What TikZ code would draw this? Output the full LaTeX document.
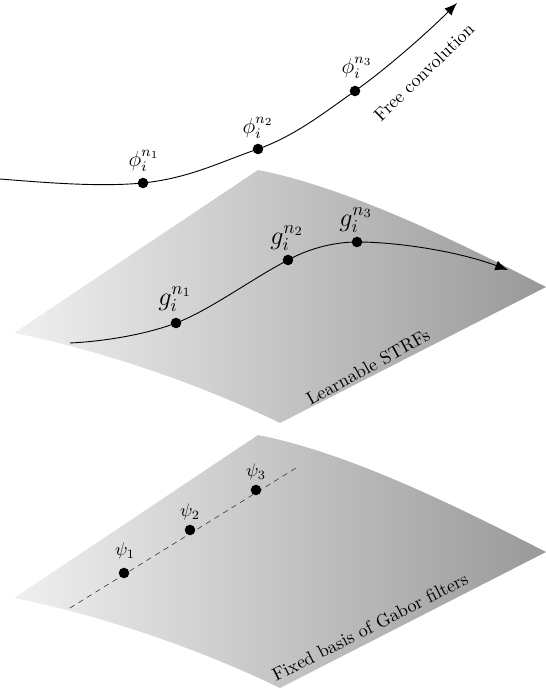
\documentclass[tikz,border=0pt]{standalone}
\usetikzlibrary{arrows.meta}
\begin{document}
\begin{tikzpicture}[x=0.55pt,y=-0.55pt,
  dot/.style={circle,fill=black,inner sep=0pt,minimum size=5.8pt},
  surf/.style={left color=gray!12,right color=gray!80,draw=none},
  curvearrow/.style={line width=0.5pt,-{Latex[length=7pt,width=5.5pt]}},
  plbl/.style={inner sep=1pt,font=\large},
  slbl/.style={inner sep=1pt},
  glbl/.style={inner sep=1pt,font=\Large}]
\useasboundingbox (0,0) rectangle (546,688);
% surfaces
\shade[surf] (258,170) .. controls (350,188) and (460,243) .. (546,287)
  -- (280,423) .. controls (200,384) and (100,350) .. (14,333) -- cycle;
\begin{scope}[yshift=-265*0.55pt]
\shade[surf] (258,170) .. controls (350,188) and (460,243) .. (546,287)
  -- (280,423) .. controls (200,384) and (100,350) .. (14,333) -- cycle;
\end{scope}
% top curve
\coordinate (t0) at (0,179);
\node[dot] (p1) at (143,183) {};
\node[dot] (p2) at (258,149) {};
\node[dot] (p3) at (355,91) {};
\coordinate (t4) at (457,3);
\draw[curvearrow] (t0) .. controls (50,183) and (100,187) .. (p1.center)
  .. controls (190,178) and (220,162) .. (p2.center)
  .. controls (295,136) and (325,112) .. (p3.center)
  .. controls (390,66) and (430,30) .. (t4);
\node[plbl] (lp1) at (144,161) {$\phi_i^{n_1}$};
\node[plbl] (lp2) at (258,128) {$\phi_i^{n_2}$};
\node[plbl] (lp3) at (357,68) {$\phi_i^{n_3}$};
\node[rotate=44] (free) at (424,72) {Free convolution};
% middle curve
\coordinate (m0) at (70,343);
\node[dot] (g1) at (176,323) {};
\node[dot] (g2) at (288,260) {};
\node[dot] (g3) at (357,242) {};
\coordinate (m4) at (508,270);
\draw[curvearrow] (m0) .. controls (110,341) and (150,333) .. (g1.center)
  .. controls (210,310) and (250,280) .. (g2.center)
  .. controls (310,248) and (335,242) .. (g3.center)
  .. controls (400,242) and (460,252) .. (m4);
\node[glbl] (lg1) at (175,299) {$g_i^{n_1}$};
\node[glbl] (lg2) at (287,238) {$g_i^{n_2}$};
\node[glbl] (lg3) at (356,220) {$g_i^{n_3}$};
\node[rotate=29] (learn) at (368,367) {Learnable STRFs};
% bottom line
\coordinate (b0) at (70,608);
\coordinate (b4) at (296,468);
\draw[line width=0.35pt,gray!50!black,dash pattern=on 3pt off 2.5pt] (b0) -- (b4);
\node[dot] (s1) at (124,573) {};
\node[dot] (s2) at (190,530) {};
\node[dot] (s3) at (256,490) {};
\node[slbl] (ls1) at (125,551) {$\psi_1$};
\node[slbl] (ls2) at (190,512) {$\psi_2$};
\node[slbl] (ls3) at (256,472) {$\psi_3$};
\node[rotate=27] (fixed) at (370,627) {Fixed basis of Gabor filters};
\end{tikzpicture}
\end{document}
